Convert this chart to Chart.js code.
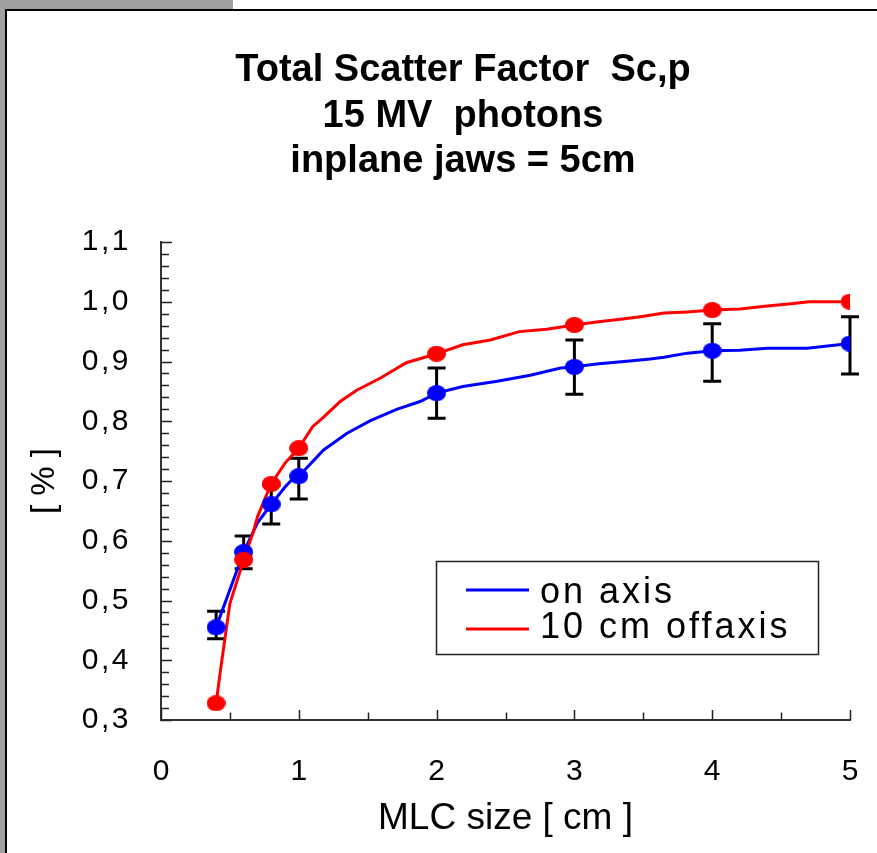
<!DOCTYPE html>
<html>
<head>
<meta charset="utf-8">
<script src="https://cdn.jsdelivr.net/npm/chart.js@4.4.1/dist/chart.umd.min.js"></script>
<style>
  html, body { margin: 0; padding: 0; background: #ffffff; overflow: hidden; }
  #topbar { position: absolute; left: 0; top: 0; width: 233px; height: 9px; background: #a0a0a0; }
  #leftbar { position: absolute; left: 0; top: 0; width: 5px; height: 853px; background: #a0a0a0; }
  #frame { position: absolute; left: 5px; top: 9px; width: 880px; height: 860px; border-top: 2px solid #000; border-left: 2px solid #000; box-sizing: border-box; }
  #c { position: absolute; left: 0; top: 0; }
</style>
</head>
<body>
<div id="topbar"></div>
<div id="leftbar"></div>
<div id="frame"></div>
<canvas id="c" width="877" height="853"></canvas>
<script>
// ---- data ----
const titleLines = ['Total Scatter Factor  Sc,p', '15 MV  photons', 'inplane jaws = 5cm'];
const seriesNames = ['on axis', '10 cm offaxis'];
const xAxisTitle = 'MLC size [ cm ]';
const yAxisTitle = '[ % ]';

const markerX = [0.4, 0.6, 0.8, 1, 2, 3, 4, 5];
const onAxisMarkers = [0.455, 0.581, 0.661, 0.708, 0.847, 0.891, 0.918, 0.930];
const offAxisMarkers = [0.328, 0.568, 0.695, 0.755, 0.913, 0.961, 0.986, 1.000];
const onAxisErrLow = [0.436, 0.553, 0.628, 0.670, 0.805, 0.845, 0.867, 0.879];
const onAxisErrHigh = [0.482, 0.608, 0.693, 0.738, 0.889, 0.936, 0.963, 0.975];

const onAxisLineX = [0.4, 0.6, 0.7, 0.8, 0.9, 0.95, 1.0, 1.18, 1.35, 1.52, 1.71, 1.88, 2.0, 2.19, 2.44, 2.68, 2.9, 3.0, 3.16, 3.4, 3.55, 3.65, 3.82, 4.0, 4.2, 4.4, 4.69, 5.0];
const onAxisLineY = [0.455, 0.581, 0.630, 0.661, 0.690, 0.702, 0.708, 0.752, 0.780, 0.801, 0.820, 0.833, 0.847, 0.858, 0.867, 0.877, 0.889, 0.891, 0.896, 0.901, 0.904, 0.907, 0.914, 0.918, 0.919, 0.922, 0.922, 0.930];
const offAxisLineX = [0.4, 0.435, 0.5, 0.6, 0.67, 0.7, 0.77, 0.8, 0.9, 1.0, 1.1, 1.18, 1.3, 1.42, 1.59, 1.78, 2.0, 2.19, 2.39, 2.6, 2.8, 3.0, 3.16, 3.35, 3.48, 3.65, 3.82, 4.0, 4.2, 4.4, 4.59, 4.7, 5.0];
const offAxisLineY = [0.328, 0.389, 0.495, 0.568, 0.615, 0.640, 0.679, 0.695, 0.730, 0.755, 0.791, 0.807, 0.833, 0.852, 0.872, 0.898, 0.913, 0.928, 0.936, 0.950, 0.954, 0.961, 0.966, 0.971, 0.975, 0.981, 0.983, 0.986, 0.988, 0.993, 0.997, 1.000, 1.000];

const xMin = 0, xMax = 5, xMajorStep = 1, xMinorStep = 0.5;
const yMin = 0.3, yMax = 1.1, yMajorStep = 0.1, yMinorStep = 0.02;

// ---- helpers ----
const FONT = '"Liberation Sans", Arial, sans-serif';
function pts(xs, ys) { return xs.map((x, i) => ({ x: x, y: ys[i] })); }
function ellipseImg(color, w, h) {
  const c = document.createElement('canvas');
  c.width = w; c.height = h;
  const g = c.getContext('2d');
  g.fillStyle = color;
  g.beginPath();
  g.ellipse(w / 2, h / 2, w / 2, h / 2, 0, 0, Math.PI * 2);
  g.fill();
  return c;
}
const blueDot = ellipseImg('#0000ff', 19, 16);
const redDot = ellipseImg('#ff0000', 19, 16);

const decorPlugin = {
  id: 'decor',
  beforeDatasetsDraw(chart) {
    const ctx = chart.ctx, xs = chart.scales.x, ys = chart.scales.y;
    const a = chart.chartArea;
    ctx.save();
    ctx.strokeStyle = '#222';
    ctx.lineWidth = 1.5;
    const ny = Math.round((yMax - yMin) / yMinorStep);
    for (let k = 0; k <= ny; k++) {
      const v = yMin + k * yMinorStep;
      const p = Math.round(ys.getPixelForValue(v)) + 0.5;
      const len = (k % Math.round(yMajorStep / yMinorStep) === 0) ? 11 : 8;
      ctx.beginPath(); ctx.moveTo(a.left, p); ctx.lineTo(a.left + len, p); ctx.stroke();
    }
    const nx = Math.round((xMax - xMin) / xMinorStep);
    for (let k = 0; k <= nx; k++) {
      const v = xMin + k * xMinorStep;
      const p = Math.round(xs.getPixelForValue(v)) + 0.5;
      const len = (k % Math.round(xMajorStep / xMinorStep) === 0) ? 10 : 7.5;
      ctx.beginPath(); ctx.moveTo(p, a.bottom); ctx.lineTo(p, a.bottom - len); ctx.stroke();
    }
    ctx.strokeStyle = '#000';
    ctx.lineWidth = 3;
    for (let i = 0; i < markerX.length; i++) {
      const px = xs.getPixelForValue(markerX[i]);
      const y1 = ys.getPixelForValue(onAxisErrLow[i]);
      const y2 = ys.getPixelForValue(onAxisErrHigh[i]);
      ctx.beginPath();
      ctx.moveTo(px, y1); ctx.lineTo(px, y2);
      ctx.moveTo(px - 9, y1); ctx.lineTo(px + 9, y1);
      ctx.moveTo(px - 9, y2); ctx.lineTo(px + 9, y2);
      ctx.stroke();
    }
    ctx.restore();
  },
  afterDatasetsDraw(chart) {
    chart.ctx.letterSpacing = '2.5px';
  },
  afterDraw(chart) {
    const ctx = chart.ctx;
    ctx.letterSpacing = '0px';
    ctx.save();
    ctx.fillStyle = '#000';
    ctx.font = 'bold 38px ' + FONT;
    ctx.textAlign = 'center';
    ctx.textBaseline = 'alphabetic';
    const base = [81, 126.5, 172];
    titleLines.forEach((t, i) => ctx.fillText(t, 463, base[i]));
    ctx.lineWidth = 1.5;
    ctx.strokeStyle = '#222';
    ctx.strokeRect(436.5, 561.5, 382, 93);
    const colors = [chart.data.datasets[3].borderColor, chart.data.datasets[2].borderColor];
    const sampleY = [590, 629];
    const textY = [603, 638];
    ctx.font = '36px ' + FONT;
    ctx.textAlign = 'left';
    ctx.letterSpacing = '3px';
    seriesNames.forEach((n, i) => {
      ctx.strokeStyle = colors[i];
      ctx.lineWidth = 3;
      ctx.beginPath(); ctx.moveTo(466, sampleY[i]); ctx.lineTo(529, sampleY[i]); ctx.stroke();
      ctx.fillText(n, 540, textY[i]);
    });
    ctx.letterSpacing = '0px';
    ctx.restore();
  }
};

const chart = new Chart(document.getElementById('c'), {
  type: 'line',
  data: {
    datasets: [
      { label: seriesNames[1] + ' markers', data: pts(markerX, offAxisMarkers), showLine: false,
        pointStyle: redDot, pointRadius: 9, borderColor: '#ff0000', backgroundColor: '#ff0000' },
      { label: seriesNames[0] + ' markers', data: pts(markerX, onAxisMarkers), showLine: false,
        pointStyle: blueDot, pointRadius: 9, borderColor: '#0000ff', backgroundColor: '#0000ff' },
      { label: seriesNames[1], data: pts(offAxisLineX, offAxisLineY), borderColor: '#ff0000',
        borderWidth: 3, pointRadius: 0, tension: 0, fill: false },
      { label: seriesNames[0], data: pts(onAxisLineX, onAxisLineY), borderColor: '#0000ff',
        borderWidth: 3, pointRadius: 0, tension: 0, fill: false }
    ]
  },
  options: {
    responsive: false,
    animation: false,
    events: [],
    layout: { padding: { top: 242, right: 27, bottom: 0, left: 0 } },
    plugins: { legend: { display: false }, title: { display: false }, tooltip: { enabled: false } },
    scales: {
      x: {
        type: 'linear', min: xMin, max: xMax,
        afterFit(s) { s.height = 133; s.paddingLeft = 0; s.paddingRight = 0; },
        grid: { display: false, drawTicks: false },
        border: { display: true, color: '#333', width: 2 },
        ticks: { stepSize: xMajorStep, padding: 34, color: '#000', autoSkip: false, maxRotation: 0,
                 font: { family: FONT, size: 30 } },
        title: { display: true, text: xAxisTitle, color: '#000', padding: { top: 0, bottom: 12 },
                 font: { family: FONT, size: 37 } }
      },
      y: {
        type: 'linear', min: yMin, max: yMax,
        afterFit(s) { s.width = 161; s.paddingTop = 0; s.paddingBottom = 0; },
        grid: { display: false, drawTicks: false },
        border: { display: true, color: '#333', width: 2 },
        ticks: { stepSize: yMajorStep, padding: 30, color: '#000', z: 1,
                 font: { family: FONT, size: 30 },
                 callback: (v) => v.toFixed(1).replace('.', ',') },
        title: { display: true, text: yAxisTitle, color: '#000', padding: { top: 25, bottom: 0 },
                 font: { family: FONT, size: 33 } }
      }
    }
  },
  plugins: [decorPlugin]
});
</script>
</body>
</html>
